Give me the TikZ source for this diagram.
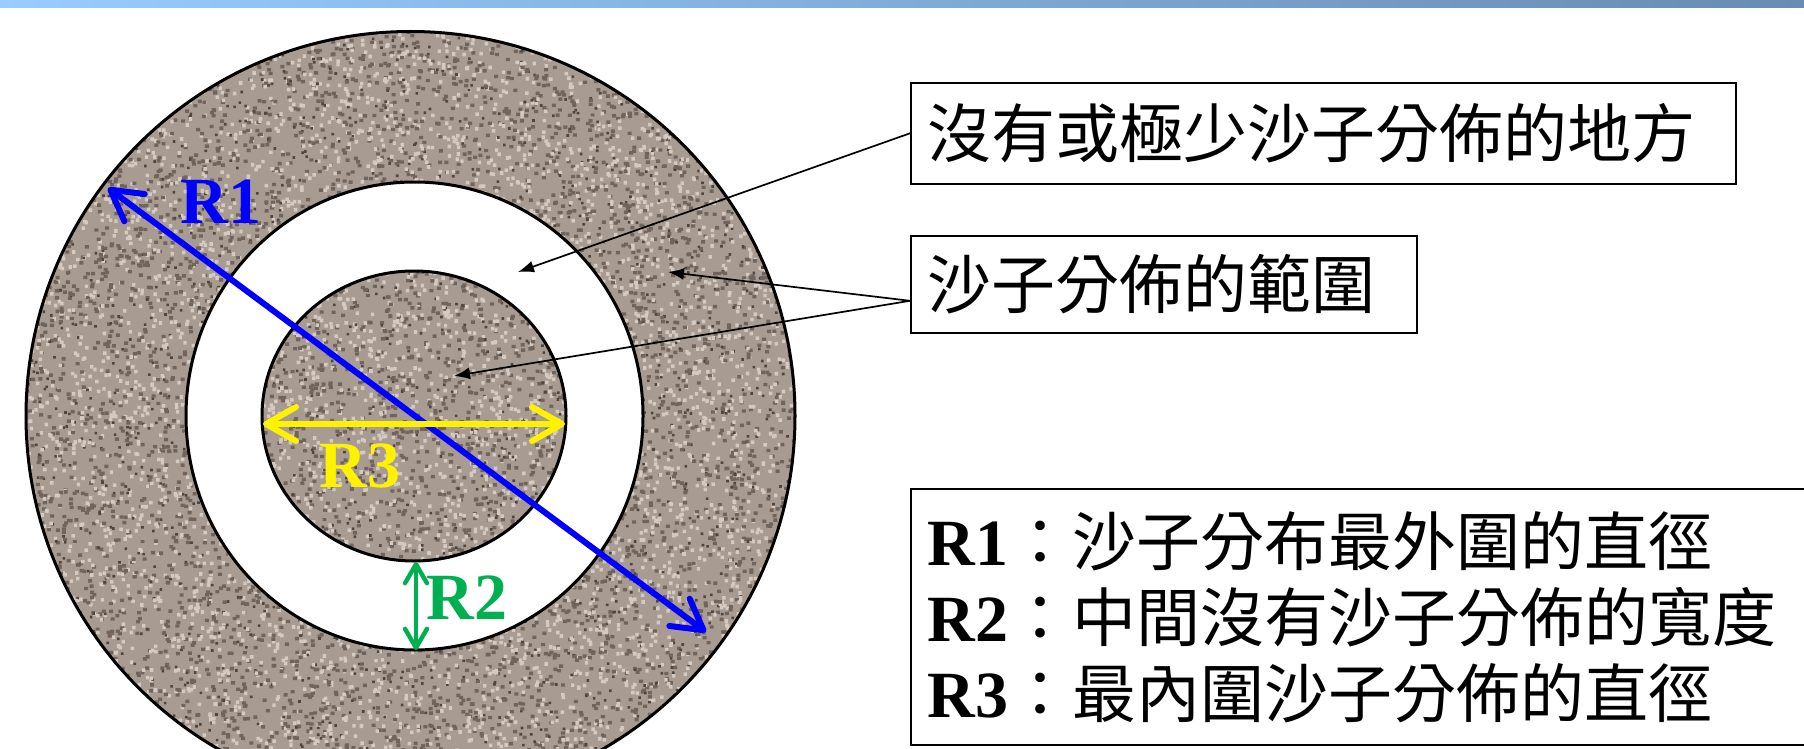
\documentclass[tikz,border=0pt]{standalone}
\usepackage{fontspec}
\setmainfont{Liberation Serif}
\newfontfamily\cjk{Noto Sans CJK TC}
\usetikzlibrary{arrows.meta,calc}
\definecolor{sand}{RGB}{168,156,146}
\definecolor{sanddark}{RGB}{112,100,92}
\definecolor{sanddeep}{RGB}{80,70,63}
\definecolor{sandlight}{RGB}{212,202,193}
\definecolor{barL}{RGB}{153,204,255}
\definecolor{barR}{RGB}{104,140,178}
\definecolor{rgreen}{RGB}{0,176,80}
\newcommand\RRlab[1]{{\rmfamily\bfseries\fontsize{33pt}{38pt}\selectfont #1}}
\begin{document}
\begin{tikzpicture}[x=0.5pt,y=-0.5pt,
  box/.style={draw=black,line width=0.8pt,inner xsep=8.5pt,inner ysep=0pt,align=left,
    font=\cjk\fontsize{32pt}{38pt}\selectfont,anchor=north west},
  ptr/.style={line width=0.85pt,-{Latex[length=8pt,width=6pt]}},
  ring/.style={line width=1.5pt},
  lab/.style={font=\rmfamily\bfseries\fontsize{33pt}{33pt}\selectfont,inner sep=0pt},
  bigtip/.style={{Straight Barb[length=15pt,width=17pt,round]}-{Straight Barb[length=15pt,width=17pt,round]}},
  smalltip/.style={{Straight Barb[length=9.5pt,width=11pt,round]}-{Straight Barb[length=9.5pt,width=11pt,round]}}
]
\useasboundingbox (0,0) rectangle (1804,749);
\fill[white] (0,0) rectangle (1804,749);
% top bar
\shade[left color=barL,right color=barR] (0,0) rectangle (1804,7.5);

% sand texture
\begin{scope}
\clip (410.5,416) circle (384.5);
\fill[sand] (0,0) rectangle (820,749);
\pgfmathsetseed{7}
\foreach \j in {1,...,28}{
  \fill[sanddark] \foreach \i in {1,...,190}{ ({410+385*rand},{390+360*rand}) rectangle ++(4.0,3.4) };
  \fill[sandlight] \foreach \i in {1,...,190}{ ({410+385*rand},{390+360*rand}) rectangle ++(3.4,3.6) };
  \fill[sanddeep] \foreach \i in {1,...,60}{ ({410+385*rand},{390+360*rand}) rectangle ++(2.6,2.6) };
}
\fill[white,even odd rule] (414.5,416) ellipse [x radius=228.5, y radius=234]
   (414,416) ellipse [x radius=152, y radius=145];
\end{scope}
\draw[ring] (410.5,416) circle (384.5);
\draw[ring] (414.5,416) ellipse [x radius=228.5, y radius=234];
\draw[ring] (414,416) ellipse [x radius=152, y radius=145];

% boxes
\node[box,text width=395.5pt,minimum height=50.5pt] (box1) at (910,82) {沒有或極少沙子分佈的地方};
\node[box,text width=236pt,minimum height=48.5pt] (box2) at (910,235) {沙子分佈的範圍};
\node[box,text width=470pt,minimum height=128pt] (box3) at (910,488)
  {\RRlab{R1}：沙子分布最外圍的直徑\\
   \RRlab{R2}：中間沒有沙子分佈的寬度\\
   \RRlab{R3}：最內圍沙子分佈的直徑};

% pointers
\coordinate (t1) at (518,272);
\coordinate (t2) at (668,272);
\coordinate (t3) at (454,376);
\coordinate (b2) at ([yshift=-8.25pt]box2.west);
\draw[ptr] (box1.west) -- (t1);
\draw[ptr] (b2) -- (t2);
\draw[ptr] (b2) -- (t3);

% dimension arrows
\coordinate (r1a) at (108,188);
\coordinate (r1b) at (706,632);
\coordinate (r3a) at (263,424);
\coordinate (r3b) at (565,424);
\coordinate (r2a) at (416,562);
\coordinate (r2b) at (416,650);
\draw[blue,line width=3pt,bigtip] (r1a) -- (r1b);
\draw[yellow,line width=3pt,bigtip] (r3a) -- (r3b);
\draw[rgreen,line width=2.2pt,smalltip] (r2a) -- (r2b);

% labels
\node[lab,text=blue] (l1) at (221,202) {R1};
\node[lab,text=yellow] (l3) at (360,466) {R3};
\node[lab,text=rgreen] (l2) at (467,598) {R2};
\end{tikzpicture}
\end{document}
